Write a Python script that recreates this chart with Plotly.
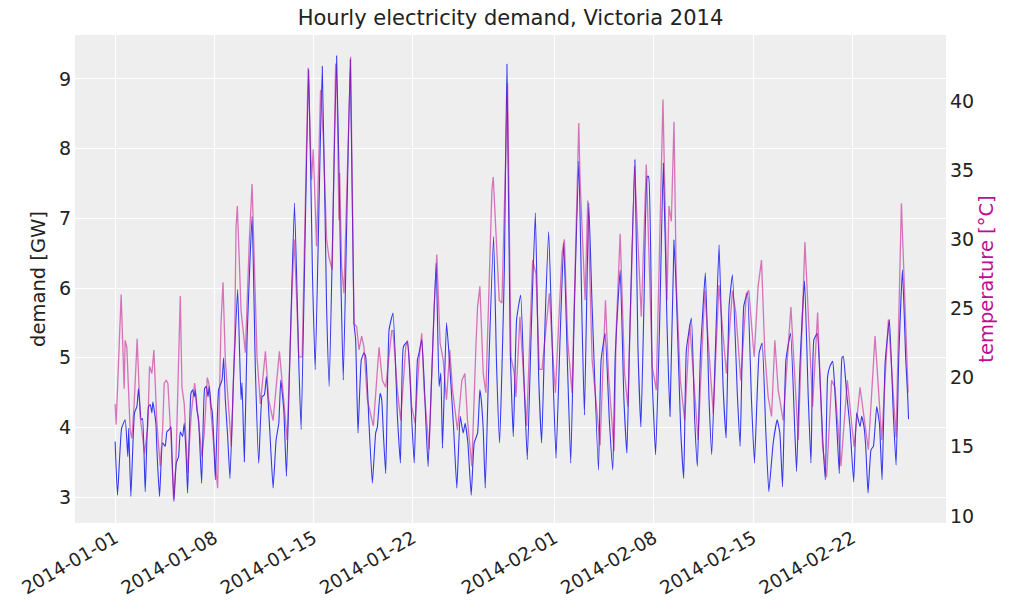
import pandas as pd
import plotly.graph_objects as go

# hours since 2014-01-01 00:00 and demand [GW]
demand_hours = [0, 4, 11, 17, 21.5, 23, 26.6, 32.8, 36.8, 39.6, 44.1, 46.4, 50.9, 56.5, 59.4, 62.2, 63.9, 69, 70.7, 75.2,
                80.3, 84.8, 87.6, 91.6, 94.4, 96.1, 99.5, 103.5, 107.4, 110.3, 114.2, 117, 120.4, 122.7, 128.3, 131.2, 134,
                135.7, 138.5, 141.3, 146.4, 151.5, 154.4, 157.2, 159.4, 162.8, 164, 166.8, 169.6, 175.2, 180.9, 183.7,
                186.5, 190.5, 194.4, 200.7, 207.4, 213.1, 214.8, 218.7, 223.3, 231.8, 237.4, 243.1, 248.7, 252.7, 256.1,
                261.7, 267.4, 272.5, 277, 280.4, 285.5, 290, 295.1, 303.6, 310.9, 314.9, 327.5, 334, 338.7, 350.6, 357.9,
                362.4, 374.9, 381.7, 386.2, 398.1, 404.3, 407.1, 411.1, 416.7, 421.2, 424.1, 429.7, 435.4, 441, 443.9,
                448.4, 451.2, 454, 458, 463.7, 470.4, 477.8, 482.9, 488, 494.7, 499.3, 502.1, 506.3, 511.7, 514.5, 519,
                523, 525.8, 529.8, 536, 543.4, 548.4, 551.3, 554.1, 560.9, 565.4, 572.8, 578.4, 584.1, 589.1, 592.5,
                597.1, 602.7, 607.8, 613.5, 617.4, 619.7, 623.1, 626.5, 632.1, 640.6, 645.7, 650.8, 658.7, 663.2, 668.9,
                674, 679.6, 686.4, 692.6, 697.7, 703.9, 711.3, 716.9, 722, 727.7, 733.9, 741.8, 746.3, 753.1, 759.3,
                766.1, 771.2, 777.4, 784.8, 790.4, 794.4, 801.7, 807.4, 818.1, 822.6, 829.4, 836.8, 842.4, 846.5, 854.9,
                861.2, 866.3, 870.8, 879.8, 884.9, 890, 895.1, 900.7, 903, 909.2, 914.9, 921.7, 927.9, 934.1, 939.2,
                946, 949.9, 957.3, 962.4, 966.9, 975.4, 981, 985.6, 990.6, 999.1, 1005.3, 1009.9, 1016.6, 1022.3,
                1029.1, 1034.2, 1039.2, 1044.9, 1053.4, 1057.9, 1064.1, 1070.3, 1077.1, 1082.2, 1090.1, 1095.2, 1101.4,
                1106.5, 1113.9, 1120.7, 1125.2, 1129.7, 1135.4, 1143.3, 1150.6, 1153.5, 1159.1, 1167, 1173.2, 1177.8,
                1182.8, 1188.5, 1193, 1197.5, 1202.1, 1206, 1210, 1214.5, 1217.3, 1222.4, 1225.8, 1230.3, 1232.6,
                1238.2, 1243.9, 1250.1, 1255.2, 1260.9, 1263.7, 1267.6, 1270.5, 1274.4, 1279.5, 1283.5, 1289.1, 1293.7,
                1298.2, 1303.3, 1310.6, 1317.4, 1321.9, 1326.5, 1332.7, 1338.3, 1341.7, 1343]
demand_gw = [3.80, 3.03, 3.99, 4.11, 3.58, 3.99, 3.01, 4.21, 4.30, 4.56, 4.11, 4.13, 3.08, 4.30, 4.33, 4.21, 4.37, 4.06,
             3.68, 3.01, 3.78, 3.73, 3.94, 3.97, 4.01, 3.63, 2.94, 3.49, 3.58, 3.94, 3.87, 4.06, 3.56, 3.06, 4.49, 4.54,
             4.44, 4.54, 4.25, 4.11, 3.20, 4.56, 4.59, 4.44, 4.59, 4.28, 4.25, 3.87, 3.25, 4.54, 4.68, 5.00, 4.40, 3.87,
             3.27, 4.78, 5.98, 4.40, 4.64, 3.51, 5.26, 7.03, 4.83, 3.49, 4.44, 4.47, 4.73, 3.97, 3.13, 3.82, 4.06, 4.68,
             4.25, 3.30, 4.78, 7.22, 4.92, 3.97, 9.13, 6.22, 4.83, 9.18, 5.74, 4.59, 9.33, 6.31, 4.68, 9.28, 5.50, 5.26,
             3.92, 4.97, 5.07, 5.02, 4.06, 3.20, 3.92, 4.01, 4.49, 4.40, 3.92, 3.34, 5.40, 5.64, 4.16, 3.49, 5.16, 5.23,
             4.68, 4.11, 3.49, 4.97, 5.07, 5.26, 4.68, 4.11, 3.44, 4.78, 6.36, 4.59, 4.78, 3.70, 5.50, 5.02, 4.01, 3.13,
             4.16, 3.92, 4.06, 3.78, 3.03, 3.78, 3.92, 4.54, 4.40, 3.97, 3.13, 4.78, 6.74, 4.88, 3.78, 6.22, 9.21, 5.07,
             3.87, 5.55, 5.90, 4.54, 3.54, 5.26, 7.08, 4.73, 3.78, 5.50, 6.81, 4.59, 3.56, 5.26, 6.65, 4.78, 3.49, 5.74,
             7.82, 5.50, 4.18, 7.22, 5.74, 3.39, 4.97, 5.35, 4.06, 3.39, 5.02, 6.26, 4.40, 3.63, 5.26, 7.84, 5.16, 4.01,
             5.74, 7.60, 7.60, 4.68, 3.61, 5.50, 7.79, 5.50, 4.16, 6.69, 5.93, 3.97, 3.27, 5.11, 5.57, 4.11, 3.44, 5.02,
             6.22, 4.40, 3.61, 5.26, 6.62, 4.59, 3.85, 5.74, 6.19, 4.44, 3.73, 5.74, 5.93, 4.40, 3.49, 5.07, 5.21, 3.94,
             3.08, 3.78, 4.11, 3.92, 3.15, 4.97, 5.35, 3.92, 3.37, 4.88, 6.10, 4.44, 3.49, 5.26, 5.35, 4.73, 3.87, 3.25,
             4.73, 4.88, 4.95, 4.68, 3.87, 3.34, 5.00, 5.02, 4.49, 4.01, 3.22, 4.21, 4.01, 4.16, 4.01, 3.73, 3.06, 3.68,
             3.73, 4.30, 4.06, 3.25, 4.92, 5.55, 4.16, 3.46, 5.02, 6.26, 4.97, 4.42, 4.12]

# hours since 2014-01-01 00:00 and temperature [°C]
temp_hours = [0, 1.7, 10.2, 15.3, 17, 19.8, 25.4, 28.3, 32.2, 37.3, 42.4, 49.8, 55.4, 58.2, 62.2, 65.6, 70.7, 76.3, 80.3,
              83.1, 86.5, 89.3, 95, 98.9, 102.9, 110.3, 113.1, 117, 122.7, 128.9, 134.6, 141.3, 147, 150.9, 156, 158.5,
              162.8, 166, 173.5, 179.2, 182.6, 186.5, 196.7, 202.4, 204.6, 206.9, 213.1, 220.5, 227.2, 231.8, 240.2,
              245.9, 254.4, 260, 267.4, 278.1, 284.3, 291.1, 298.5, 303, 306.4, 310.9, 316.6, 326.7, 332.5, 335.3, 341,
              347.7, 352.3, 357.9, 361.9, 367.5, 373.2, 376, 378.8, 380, 383.4, 387.3, 398.6, 401.5, 404.3, 408.8,
              412.8, 417.3, 421.2, 426.9, 437.1, 446.7, 452.3, 458, 468.2, 470.4, 477.8, 483.4, 491.9, 494.7, 497.6,
              502.1, 507.7, 514.5, 519, 523, 531.5, 540, 544.5, 550.1, 555.2, 560.9, 566.5, 571.1, 579.5, 586.9, 592,
              596.5, 603.8, 610.6, 613.5, 617.4, 623.1, 627.6, 637.8, 640, 650.2, 654.7, 664.3, 670, 675.7, 678.5,
              685.2, 696.6, 706.7, 712.4, 718, 722.6, 735, 740.7, 745.2, 756.5, 760.4, 766.1, 773.4, 784.8, 787, 795.5,
              800, 807.4, 817, 820.9, 830, 835, 844.5, 848.1, 854.9, 862.3, 867.9, 879.3, 890.6, 899.1, 909.2, 916,
              927.3, 934.1, 937.5, 941.5, 946, 949.9, 956.7, 964.1, 972.6, 986.7, 998, 1006.5, 1012.5, 1022, 1034.7,
              1044.9, 1050.6, 1059, 1068.6, 1072.6, 1081.7, 1088.4, 1094.1, 1099.7, 1105.4, 1111.1, 1116.7, 1122.4,
              1130.8, 1143.9, 1156.3, 1167.6, 1180.6, 1189.1, 1197.5, 1204.3, 1212.8, 1218.5, 1228.6, 1239.4, 1250.7,
              1260.9, 1275, 1286.3, 1297.6, 1308.9, 1321.9, 1330.9, 1342.3]
temp_c = [18.1, 16.6, 26.0, 19.2, 22.7, 22.2, 16.2, 15.6, 18.1, 22.8, 17.2, 14.5, 16.5, 20.8, 20.3, 22.0, 16.7, 13.6,
          16.2, 19.6, 19.8, 19.6, 15.3, 11.2, 13.8, 25.9, 19.3, 18.1, 13.1, 17.4, 19.6, 16.7, 14.3, 16.0, 20.0, 19.6,
          17.2, 15.5, 12.0, 23.9, 26.9, 21.3, 15.0, 22.7, 30.8, 32.4, 24.9, 21.8, 30.0, 34.0, 21.5, 18.1, 21.9, 18.4,
          16.9, 21.9, 18.9, 15.5, 25.1, 30.0, 26.6, 21.5, 21.5, 42.4, 34.3, 36.5, 29.5, 40.8, 37.4, 30.0, 28.7, 27.8,
          42.7, 40.1, 31.4, 34.8, 28.0, 26.1, 43.2, 31.4, 23.9, 23.7, 22.0, 23.0, 22.2, 18.4, 16.5, 22.2, 19.8, 19.3,
          23.4, 23.4, 19.1, 16.9, 22.2, 22.7, 21.5, 17.9, 16.7, 21.3, 23.2, 19.1, 14.8, 25.1, 28.9, 22.5, 21.3, 18.4,
          22.0, 19.1, 16.2, 19.8, 20.3, 16.9, 13.6, 22.2, 25.1, 26.6, 20.3, 18.9, 33.6, 34.5, 25.6, 25.4, 41.3, 21.5,
          20.3, 18.6, 24.4, 16.5, 28.5, 27.5, 20.6, 20.6, 26.1, 21.8, 18.9, 29.0, 30.0, 22.7, 18.9, 38.4, 34.3, 25.6,
          32.8, 21.3, 16.5, 15.1, 25.6, 20.3, 14.7, 23.4, 30.4, 20.3, 17.9, 35.3, 24.4, 35.4, 20.8, 19.1, 40.1, 25.6,
          32.4, 31.3, 38.5, 26.8, 19.8, 16.9, 23.9, 15.5, 26.3, 21.5, 17.4, 26.7, 20.3, 26.3, 24.7, 19.8, 26.1, 26.3,
          21.5, 26.6, 28.5, 21.8, 18.6, 17.2, 22.7, 19.1, 16.9, 25.1, 15.5, 29.8, 17.9, 24.7, 15.0, 12.8, 19.8, 19.3,
          13.6, 19.8, 15.0, 19.3, 14.8, 23.0, 15.5, 24.2, 15.7, 32.6, 18.9]

start = pd.Timestamp("2014-01-01")
tick_labels = ["2014-01-01", "2014-01-08", "2014-01-15", "2014-01-22",
               "2014-02-01", "2014-02-08", "2014-02-15", "2014-02-22"]

demand_dates = start + pd.to_timedelta(demand_hours, unit="h")
temp_dates = start + pd.to_timedelta(temp_hours, unit="h")

FONT = "DejaVu Sans"
TXT = "#222222"

fig = go.Figure()
fig.add_trace(go.Scatter(x=demand_dates, y=demand_gw, mode="lines", line_shape="spline",
                         line=dict(color="rgba(42,46,236,0.95)", width=1.1, smoothing=0.4),
                         yaxis="y", showlegend=False))
fig.add_trace(go.Scatter(x=temp_dates, y=temp_c, mode="lines",
                         line=dict(color="rgba(193,12,144,0.55)", width=1.3),
                         yaxis="y2", showlegend=False))

x0 = start - pd.Timedelta(days=2.83)
x1 = start + pd.Timedelta(days=58.6)

fig.update_layout(
    width=1011, height=611,
    margin=dict(l=75, r=65, t=35, b=88),
    paper_bgcolor="white", plot_bgcolor="#eeeeee",
    font=dict(family=FONT, color=TXT, size=18),
    title=dict(text="Hourly electricity demand, Victoria 2014", x=0.5, xref="paper",
               y=1 - 18 / 611, yref="container", xanchor="center", yanchor="middle",
               font=dict(family=FONT, size=21, color=TXT)),
    xaxis=dict(type="date", range=[x0, x1], tickvals=tick_labels, ticktext=tick_labels,
               tickangle=-30, showgrid=True, gridcolor="white", gridwidth=1.2,
               showline=False, zeroline=False, ticks="", tickfont=dict(size=18.5, color=TXT)),
    yaxis=dict(range=[2.63, 9.63], tickvals=[3, 4, 5, 6, 7, 8, 9], showgrid=True,
               gridcolor="white", gridwidth=1.2, zeroline=False, showline=False, ticks="",
               tickfont=dict(size=19, color=TXT), ticklabelstandoff=3,
               title=dict(text="demand [GW]", font=dict(size=19.5, color=TXT), standoff=8)),
    yaxis2=dict(range=[9.49, 44.77], tickvals=[10, 15, 20, 25, 30, 35, 40], overlaying="y",
                side="right", showgrid=False, zeroline=False, showline=False, ticks="",
                tickfont=dict(size=19, color=TXT), ticklabelstandoff=3,
                title=dict(text="temperature [°C]", font=dict(size=19.5, color="#c10c90"), standoff=6)),
)

fig.write_html("out.html")
